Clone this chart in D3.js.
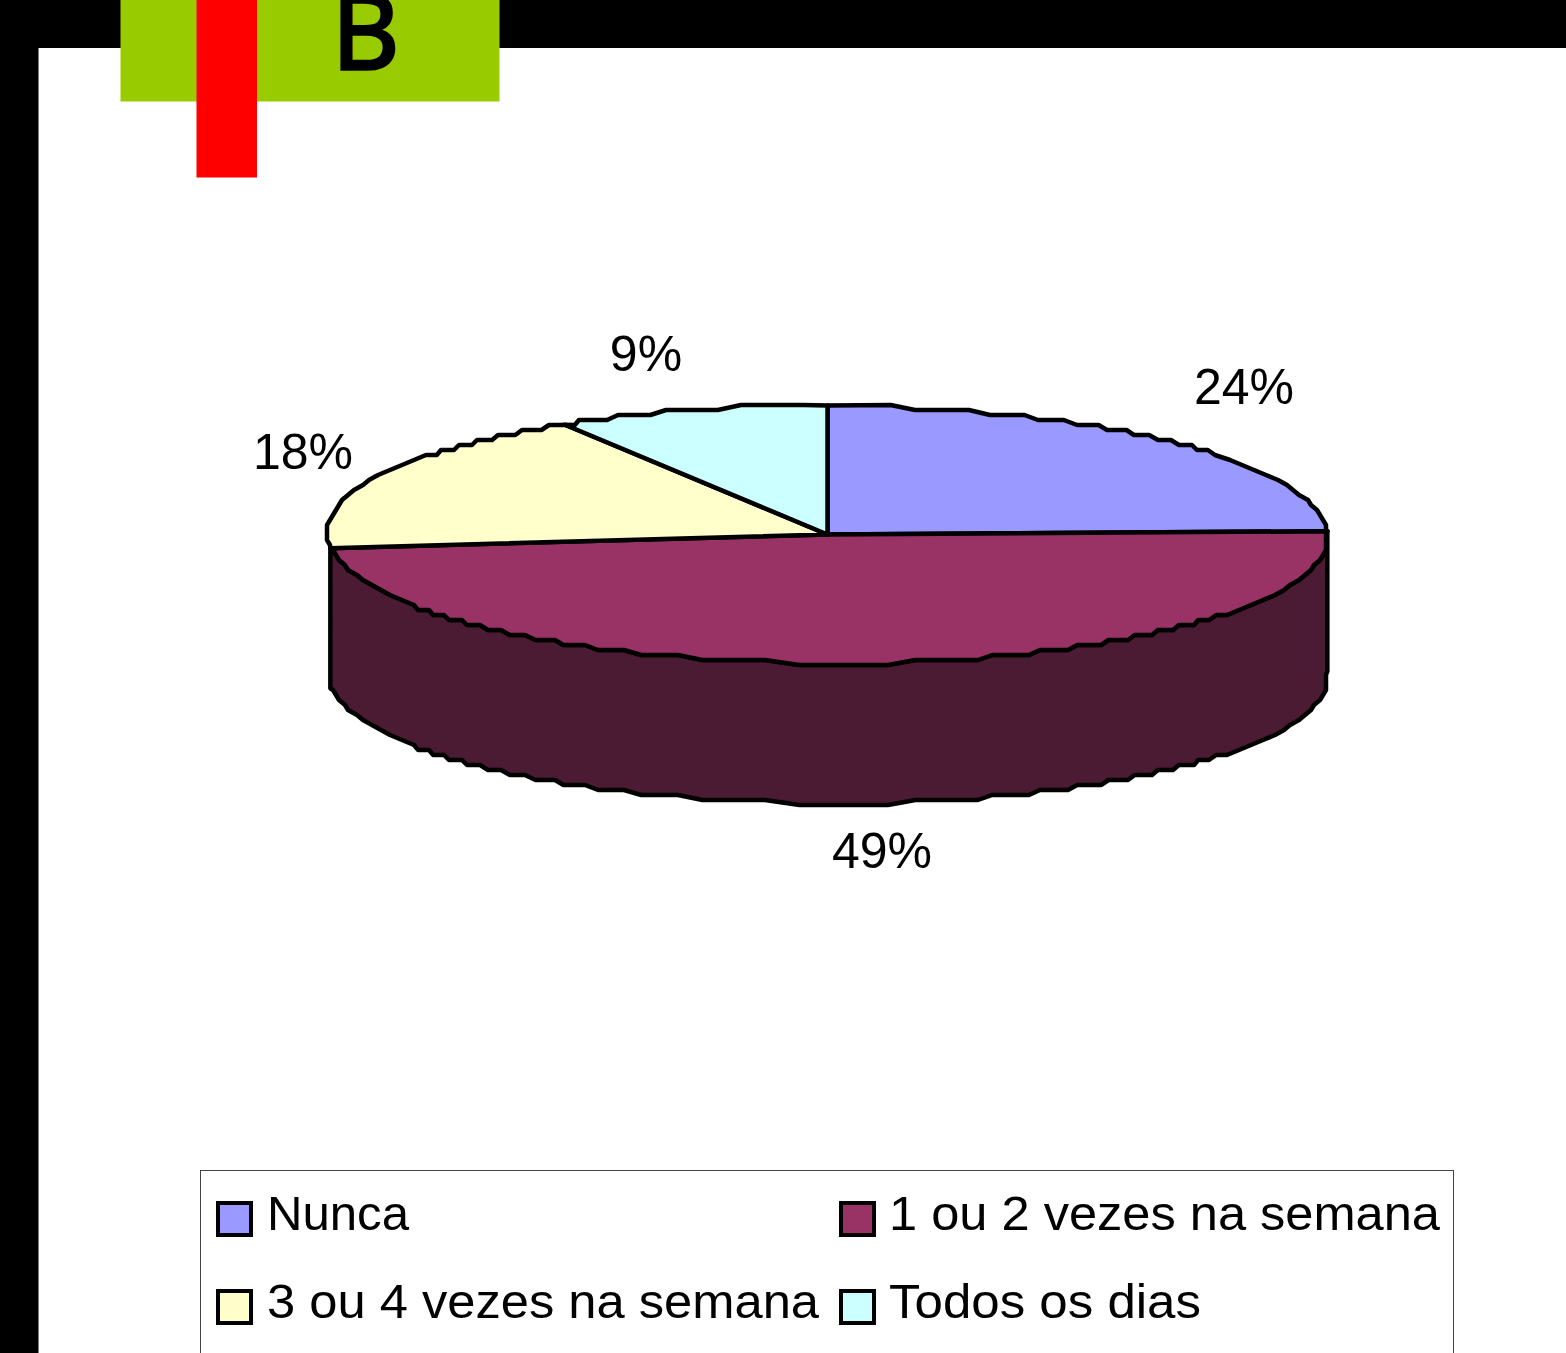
<!DOCTYPE html>
<html>
<head>
<meta charset="utf-8">
<script src="https://cdn.jsdelivr.net/npm/d3@7"></script>
<style>
  html, body { margin: 0; padding: 0; background: #fff; overflow: hidden; }
  text { font-family: "Liberation Sans", Arial, sans-serif; fill: #000; }
</style>
</head>
<body>
<svg id="chart" width="1566" height="1353"></svg>
<script>
// values (slightly finer than the rounded labels)
const categories = ["Nunca", "1 ou 2 vezes na semana", "3 ou 4 vezes na semana", "Todos os dias"];
const shares = [24.6, 48.7, 17.9, 8.8];
const shareLabels = ["24%", "49%", "18%", "9%"];
const sliceColors = ["#9999FF", "#993366", "#FFFFCC", "#CCFFFF"];
const wallColor = "#4B1A33";

const svg = d3.select("#chart");

// slide furniture
svg.append("rect").attr("x", 0).attr("y", 0).attr("width", 1566).attr("height", 48).attr("fill", "#000");
svg.append("rect").attr("x", 0).attr("y", 0).attr("width", 38.5).attr("height", 1353).attr("fill", "#000");
svg.append("rect").attr("x", 120.5).attr("y", 0).attr("width", 379).attr("height", 101.5).attr("fill", "#99CC00");
svg.append("rect").attr("x", 196.5).attr("y", 0).attr("width", 60.5).attr("height", 177.5).attr("fill", "#FF0000");
svg.append("text")
  .attr("x", 332).attr("y", 69)
  .style("font-family", "'Open Sans'")
  .style("font-size", "104px")
  .style("stroke", "#000")
  .style("stroke-width", 3.5)
  .text("B");

// the pie lies flat: unit circle squashed into an ellipse
const xScale = d3.scaleLinear().domain([-1, 1]).range([327.5, 1327.5]);
const yScale = d3.scaleLinear().domain([-1, 1]).range([663.5, 405.5]);
const depth = 140;

const pie = d3.pie().sort(null).value((d) => d);
const arcs = pie(shares);

// jagged outline like the low-res original: y snaps to a grid, each flat run
// stops short of the next one so the step is a short slant
function rimPoints(a0, a1, dy) {
  const steps = Math.max(2, Math.round((a1 - a0) * 400));
  const runs = [];
  d3.range(steps + 1).forEach(function (i) {
    const a = a0 + ((a1 - a0) * i) / steps;
    const x = Math.round(xScale(Math.sin(a)) / 3) * 3;
    const y = Math.round(yScale(Math.cos(a)) / 5) * 5 + dy;
    const last = runs[runs.length - 1];
    if (last && last.y === y) last.x1 = x;
    else runs.push({ y: y, x0: x, x1: x });
  });
  const pts = [];
  runs.forEach(function (r) {
    pts.push([r.x0, r.y]);
    if (Math.abs(r.x1 - r.x0) > 12) pts.push([r.x0 + (r.x1 - r.x0) * 0.72, r.y]);
  });
  // the real ends of the arc, not the snapped ones
  pts[0] = [xScale(Math.sin(a0)), yScale(Math.cos(a0)) + dy];
  pts.push([xScale(Math.sin(a1)), yScale(Math.cos(a1)) + dy]);
  return pts;
}

const line = d3.line();
const center = [xScale(0), yScale(0)];

// side wall of the big slice only, the others face away
const wallArc = arcs[1];
const topRim = rimPoints(wallArc.startAngle, wallArc.endAngle, 0);
const bottomRim = rimPoints(wallArc.startAngle, wallArc.endAngle, depth);
svg.append("path")
  .attr("d", line(topRim.concat(bottomRim.slice().reverse())) + "Z")
  .attr("fill", wallColor)
  .attr("stroke", "#000")
  .attr("stroke-width", 4.5)
  .attr("stroke-linejoin", "round");

svg.append("g")
  .selectAll("path")
  .data(arcs)
  .join("path")
  .attr("d", (d) => line([center].concat(rimPoints(d.startAngle, d.endAngle, 0))) + "Z")
  .attr("fill", (d, i) => sliceColors[i])
  .attr("stroke", "#000")
  .attr("stroke-width", 4.5)
  .attr("stroke-linejoin", "round");

// percent labels sit around the pie, pulled out by hand per slice
const labelX = d3.scaleOrdinal().domain(shareLabels).range([1244, 882, 303, 646]);
const labelY = d3.scaleOrdinal().domain(shareLabels).range([404, 868, 469, 371]);
svg.append("g")
  .selectAll("text")
  .data(shareLabels)
  .join("text")
  .attr("x", (d) => labelX(d))
  .attr("y", (d) => labelY(d))
  .attr("text-anchor", "middle")
  .style("font-size", "50px")
  .text((d) => d);

// legend, runs off the bottom of the page
svg.append("rect")
  .attr("x", 200.5).attr("y", 1170.5)
  .attr("width", 1253).attr("height", 220)
  .attr("fill", "#fff").attr("stroke", "#444").attr("stroke-width", 1);

const legendCol = d3.scalePoint().domain([0, 1]).range([218, 841]);
const legendRow = d3.scalePoint().domain([0, 1]).range([1203, 1291]);
const legendWidths = [142, 551, 552, 312];
const legend = svg.append("g")
  .selectAll("g")
  .data(categories)
  .join("g")
  .attr("transform", (d, i) => `translate(${legendCol(i % 2)},${legendRow(Math.floor(i / 2))})`);
legend.append("rect")
  .attr("width", 33).attr("height", 32)
  .attr("fill", (d, i) => sliceColors[i])
  .attr("stroke", "#000").attr("stroke-width", 4);
legend.append("text")
  .attr("x", (d, i) => (i % 2 ? 48 : 49))
  .attr("y", 27)
  .style("font-size", "48px")
  .attr("textLength", (d, i) => legendWidths[i])
  .attr("lengthAdjust", "spacingAndGlyphs")
  .text((d) => d);
</script>
</body>
</html>
